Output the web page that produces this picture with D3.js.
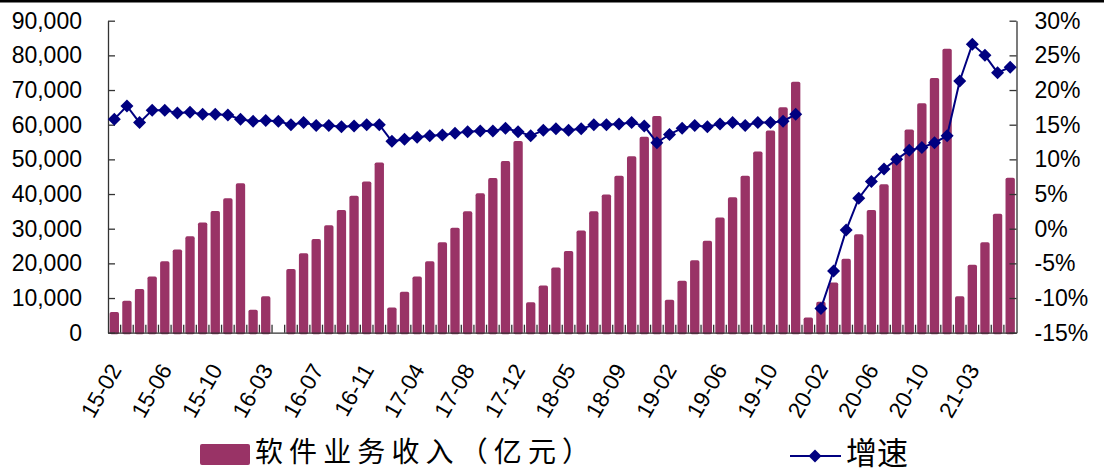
<!DOCTYPE html>
<html>
<head>
<meta charset="utf-8">
<script src="https://cdn.jsdelivr.net/npm/d3@7/dist/d3.min.js"></script>
<style>
  html, body { margin: 0; padding: 0; background: #fff; }
  svg { display: block; }
  .tick text { font-family: "Liberation Sans", Arial, sans-serif; fill: #000; }
</style>
</head>
<body>
<svg id="chart" width="1104" height="472"></svg>
<script>
// Monthly cumulative periods (Jan usually merged into Feb)
const months = [
  "15-02","15-03","15-04","15-05","15-06","15-07","15-08","15-09","15-10","15-11","15-12",
  "16-02","16-03","16-04","16-05","16-06","16-07","16-08","16-09","16-10","16-11","16-12",
  "17-02","17-03","17-04","17-05","17-06","17-07","17-08","17-09","17-10","17-11","17-12",
  "18-02","18-03","18-04","18-05","18-06","18-07","18-08","18-09","18-10","18-11","18-12",
  "19-02","19-03","19-04","19-05","19-06","19-07","19-08","19-09","19-10","19-11","19-12",
  "20-01","20-02","20-03","20-04","20-05","20-06","20-07","20-08","20-09","20-10","20-11","20-12",
  "21-02","21-03","21-04","21-05","21-06"
];

// 软件业务收入（亿元）, cumulative year to date
const revenue = [
  6000, 9200, 12600, 16200, 20600, 24000, 27800, 31800, 35100, 38800, 43100,
  6600, 10500, null, 18400, 22900, 27000, 31000, 35400, 39500, 43600, 49100,
  7300, 11800, 16200, 20600, 26100, 30300, 35000, 40200, 44600, 49500, 55300,
  8800, 13600, 18800, 23600, 29500, 35000, 39900, 45300, 50900, 56500, 62500,
  9500, 15000, 20900, 26500, 33200, 39100, 45300, 52300, 58300, 65000, 72400,
  4400, 8900, 14500, 21300, 28400, 35400, 42800, 51100, 58600, 66200, 73500, 81900,
  10500, 19600, 26100, 34300, 44700
];

// 增速 (%), year-on-year growth
const growth = [
  15.8, 17.7, 15.3, 17.1, 17.1, 16.7, 16.8, 16.5, 16.5, 16.4, 15.8,
  15.5, 15.6, 15.5, 15.0, 15.3, 14.9, 14.9, 14.7, 14.8, 15.0, 15.0,
  12.6, 12.9, 13.2, 13.4, 13.5, 13.75, 14.0, 14.1, 14.1, 14.5, 14.0,
  13.4, 14.2, 14.4, 14.2, 14.4, 15.0, 15.0, 15.1, 15.3, 14.8, 12.4,
  13.6, 14.5, 14.9, 14.7, 15.1, 15.3, 14.9, 15.3, 15.3, 15.5, 16.5,
  null, -11.5, -6.1, -0.2, 4.4, 6.8, 8.6, 10.0, 11.3, 11.7, 12.4, 13.4,
  21.3, 26.6, 25.0, 22.5, 23.3
];

// Axis tick values
const leftTicks = [0, 10000, 20000, 30000, 40000, 50000, 60000, 70000, 80000, 90000];
const rightTicks = [-15, -10, -5, 0, 5, 10, 15, 20, 25, 30];
const labelEvery = 4;

const seriesNames = ["软件业务收入（亿元）", "增速"];

const BAR_COLOR = "#993366";
const LINE_COLOR = "#000080";
const AXIS_COLOR = "#333";

const svg = d3.select("#chart");

const plotLeft = 108, plotRight = 1016.5, plotTop = 20.7, plotBottom = 332.7;

const x = d3.scaleBand()
  .domain(months)
  .range([plotLeft, plotRight])
  .paddingInner(0.26)
  .paddingOuter(0.13);
const step = x.step();
const cx = m => x(m) + x.bandwidth() / 2;

const yLeft = d3.scaleLinear().domain([0, 90000]).range([plotBottom, plotTop]);
const yRight = d3.scaleLinear().domain([-15, 30]).range([plotBottom, plotTop]);

// top frame line
svg.append("rect").attr("x", 0).attr("y", 0).attr("width", 1104).attr("height", 2.5).attr("fill", "#000");

// bars
svg.append("g").selectAll("rect")
  .data(months.map((m, i) => ({ m, v: revenue[i] })).filter(d => d.v != null))
  .join("rect")
  .attr("x", d => x(d.m))
  .attr("width", x.bandwidth())
  .attr("y", d => yLeft(d.v))
  .attr("height", d => yLeft(0) - yLeft(d.v) + 1.5)
  .attr("rx", 1.8)
  .attr("fill", BAR_COLOR);

// left axis
const fmt = d3.format(",");
const gLeft = svg.append("g").attr("transform", `translate(${plotLeft},0)`)
  .call(d3.axisLeft(yLeft).tickValues(leftTicks).tickFormat(fmt).tickSize(-7).tickSizeOuter(0).tickPadding(26));
// right axis
const gRight = svg.append("g").attr("transform", `translate(${plotRight},0)`)
  .call(d3.axisRight(yRight).tickValues(rightTicks).tickFormat(d => d + "%").tickSize(-7).tickSizeOuter(0).tickPadding(18));
[gLeft, gRight].forEach(g => {
  g.selectAll("path.domain").attr("stroke", AXIS_COLOR).attr("stroke-width", 1.3);
  g.selectAll(".tick line").attr("stroke", AXIS_COLOR).attr("stroke-width", 1.3);
  g.selectAll(".tick text").style("font-size", "23px");
});

// category axis: line, boundary ticks, rotated labels
const gX = svg.append("g").attr("transform", `translate(0,${plotBottom})`)
  .call(d3.axisBottom(x).tickValues([]).tickSizeOuter(0));
gX.select("path.domain").attr("stroke", AXIS_COLOR).attr("stroke-width", 1.3);
gX.selectAll("line.bound")
  .data(months.slice(0, -1))
  .join("line")
  .attr("class", "bound")
  .attr("x1", d => cx(d) + step / 2).attr("x2", d => cx(d) + step / 2)
  .attr("y1", 0).attr("y2", -8)
  .attr("stroke", AXIS_COLOR).attr("stroke-width", 1.3);
gX.selectAll("text.cat")
  .data(months.filter((m, i) => i % labelEvery === 0))
  .join("text")
  .attr("class", "cat")
  .attr("transform", d => `translate(${cx(d) + 8},37) rotate(-60)`)
  .attr("text-anchor", "end")
  .style("font-family", '"Liberation Sans", Arial, sans-serif')
  .style("font-size", "22.5px")
  .attr("fill", "#000")
  .text(d => d);

// growth line
const pts = months.map((m, i) => ({ m, v: growth[i] }));
const line = d3.line()
  .defined(d => d.v != null)
  .x(d => cx(d.m))
  .y(d => yRight(d.v));
svg.append("path")
  .datum(pts)
  .attr("fill", "none")
  .attr("stroke", LINE_COLOR)
  .attr("stroke-width", 2)
  .attr("d", line);

const diamond = r => `M0,${-r}L${r},0L0,${r}L${-r},0Z`;
svg.append("g").selectAll("path")
  .data(pts.filter(d => d.v != null))
  .join("path")
  .attr("transform", d => `translate(${cx(d.m)},${yRight(d.v)})`)
  .attr("d", diamond(6.5))
  .attr("fill", LINE_COLOR);

// legend
const lg = svg.append("g");
lg.append("rect").attr("x", 200).attr("y", 444).attr("width", 50).attr("height", 21)
  .attr("rx", 2).attr("fill", BAR_COLOR);
lg.append("text").attr("x", 255).attr("y", 450).attr("dominant-baseline", "central")
  .attr("textLength", 335).attr("lengthAdjust", "spacing")
  .style("font-family", '"Noto Sans CJK SC", sans-serif').style("font-size", "28px")
  .attr("fill", "#000").text(seriesNames[0]);
lg.append("line").attr("x1", 790).attr("x2", 841).attr("y1", 456).attr("y2", 456)
  .attr("stroke", LINE_COLOR).attr("stroke-width", 2);
lg.append("path").attr("transform", "translate(815,456)").attr("d", diamond(6.5)).attr("fill", LINE_COLOR);
lg.append("text").attr("x", 846).attr("y", 450).attr("dominant-baseline", "central")
  .style("font-family", '"Noto Sans CJK SC", sans-serif').style("font-size", "31px")
  .attr("fill", "#000").text(seriesNames[1]);
</script>
</body>
</html>
